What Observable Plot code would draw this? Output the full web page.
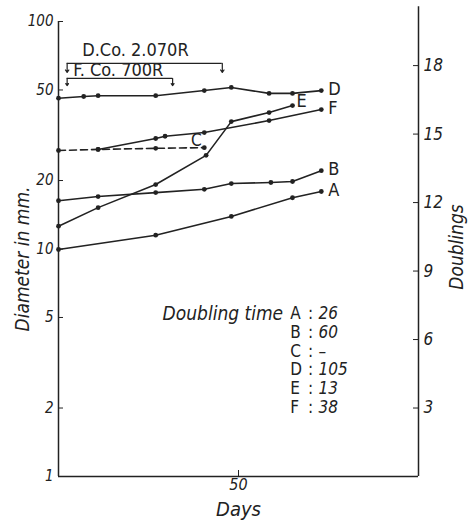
<!DOCTYPE html>
<html><head><meta charset="utf-8">
<script src="https://cdn.jsdelivr.net/npm/d3@7"></script>
<script src="https://cdn.jsdelivr.net/npm/@observablehq/plot@0.6"></script>
<style>
body{margin:0;background:#fff;}
#chart svg{display:block;}
</style></head><body><div id="chart"></div>
<script>
// Series data (days, diameter in mm)
const daysA = [0, 27, 48, 65, 73];
const mmA   = [9.95, 11.5, 13.9, 16.8, 17.9];
const daysB = [0, 11, 27, 40.5, 48, 59, 65, 73];
const mmB   = [16.3, 17.0, 17.7, 18.3, 19.4, 19.6, 19.8, 22.1];
const daysC = [0, 11, 27, 40.5];
const mmC   = [27.1, 27.4, 27.7, 27.9];
const daysD = [0, 7, 11, 27, 40.5, 48, 58.5, 65, 73];
const mmD   = [46, 46.8, 47.2, 47.2, 49.7, 51.3, 48.3, 48.3, 49.7];
const daysE = [0, 11, 27, 41, 48, 58.5, 65];
const mmE   = [12.6, 15.2, 19.2, 25.8, 36.3, 39.8, 42.7];
const daysF = [11, 27, 29.6, 40.5, 58.5, 73];
const mmF   = [27.4, 30.6, 31.3, 32.5, 36.7, 41.0];

const seriesNames = ["A", "B", "C", "D", "E", "F"];
const doublingTimes = ["26", "60", "–", "105", "13", "38"];

const leftTicks = [1, 2, 5, 10, 20, 50, 100];
const rightTickDoublings = [3, 6, 9, 12, 15, 18];
const xTicks = [50];

// Irradiation periods (days) and bracket levels (mm)
const treatLabels = ["D.Co. 2.070R", "F. Co. 700R"];
const treatStart = [2.4, 2.4];
const treatEnd = [45.5, 31.7];
const treatLevel = [65.4, 56.2];
const treatTip = [59.7, 52.3];
const treatTextAt = [[6.6, 74.6], [4.1, 61]];

const allDays = [daysA, daysB, daysC, daysD, daysE, daysF];
const allMm = [mmA, mmB, mmC, mmD, mmE, mmF];
const data = [];
seriesNames.forEach((s, i) => allDays[i].forEach((d, j) => data.push({series: s, day: d, mm: allMm[i][j]})));
const solid = data.filter(d => d.series !== "C");
const dashed = data.filter(d => d.series === "C");

const treat = treatLabels.map((l, i) => ({label: l, start: treatStart[i], end: treatEnd[i], level: treatLevel[i], tip: treatTip[i], tx: treatTextAt[i][0], ty: treatTextAt[i][1]}));
const arrows = treat.flatMap(t => [{x: t.start, y1: t.level, y2: t.tip}, {x: t.end, y1: t.level, y2: t.tip}]);

const rightTicks = rightTickDoublings.map(k => ({k, d: Math.pow(2, k / 3)}));

const ink = "#222";
const fam = "'DejaVu Sans Condensed', 'DejaVu Sans', sans-serif";

const lastPts = seriesNames.map(s => { const a = data.filter(d => d.series === s); return a[a.length - 1]; });
const endLabels = lastPts.filter(d => d.series !== "C" && d.series !== "E");

const chart = Plot.plot({
  width: 471, height: 524,
  marginLeft: 58, marginRight: 53, marginTop: 21, marginBottom: 48,
  style: {fontFamily: fam, color: ink, background: "#fff"},
  x: {domain: [0, 100]},
  y: {type: "log", domain: [1, 100]},
  marks: [
    // frame
    Plot.ruleX([0], {y1: 1, y2: 100, stroke: ink, strokeWidth: 1.5}),
    Plot.ruleX([100], {y1: 1, y2: 116, stroke: ink, strokeWidth: 1.5}),
    Plot.ruleY([1], {x1: 0, x2: 100, stroke: ink, strokeWidth: 1.5}),
    // axes
    Plot.axisY(leftTicks, {anchor: "left", tickSize: -5, tickPadding: 10, tickFormat: d => String(d), fontSize: 15, fontStyle: "italic", label: null}),
    Plot.axisY(rightTicks.map(t => t.d), {anchor: "right", tickSize: -6, tickFormat: () => "", label: null}),
    Plot.text(rightTicks, {y: "d", text: d => String(d.k), frameAnchor: "right", dx: 5, textAnchor: "start", fontSize: 17, fontStyle: "italic", fill: ink}),
    Plot.axisX(xTicks, {anchor: "bottom", tickSize: -6, tickPadding: 8, fontSize: 16, fontStyle: "italic", label: null}),
    Plot.text(["Days"], {frameAnchor: "bottom", textAnchor: "middle", dy: 39, fontSize: 20, fontStyle: "italic", fill: ink}),
    Plot.text(["Diameter in mm."], {frameAnchor: "left", textAnchor: "middle", dx: -36, dy: 10, rotate: -90, fontSize: 19, fontStyle: "italic", fill: ink}),
    Plot.text(["Doublings"], {frameAnchor: "right", textAnchor: "middle", dx: 38, dy: -2, rotate: -90, fontSize: 19, fontStyle: "italic", fill: ink}),
    // data
    Plot.line(solid, {x: "day", y: "mm", z: "series", stroke: ink, strokeWidth: 1.6}),
    Plot.line(dashed, {x: "day", y: "mm", stroke: ink, strokeWidth: 1.6, strokeDasharray: "7,4"}),
    Plot.dot(data, {x: "day", y: "mm", r: 2.4, fill: ink}),
    Plot.text(endLabels, {x: "day", y: "mm", text: "series", dx: 7, dy: -1, textAnchor: "start", fontSize: 18, fill: ink}),
    Plot.text(lastPts.filter(d => d.series === "E"), {x: "day", y: "mm", text: "series", dx: 4, dy: -4, textAnchor: "start", fontSize: 18, fill: ink}),
    Plot.text(lastPts.filter(d => d.series === "C"), {x: "day", y: "mm", text: "series", dx: -8, dy: -7, textAnchor: "middle", fontSize: 17, fill: ink}),
    // treatment brackets
    Plot.ruleY(treat, {y: "level", x1: "start", x2: "end", stroke: ink, strokeWidth: 1.2}),
    Plot.arrow(arrows, {x: "x", y1: "y1", y2: "y2", stroke: ink, strokeWidth: 1.2, headLength: 5, headAngle: 70}),
    Plot.text(treat, {x: "tx", y: "ty", text: "label", textAnchor: "start", fontSize: 18, fill: ink}),
    // doubling-time legend
    Plot.text(["Doubling time"], {x: [62.4], y: [5.21], textAnchor: "end", fontSize: 19, fontStyle: "italic", fill: ink}),
    Plot.text([seriesNames.join("\n")], {x: [64.4], y: [3.25], textAnchor: "start", lineAnchor: "middle", lineHeight: 1.1, fontSize: 17, fill: ink}),
    Plot.text([seriesNames.map(() => ":").join("\n")], {x: [70], y: [3.25], textAnchor: "middle", lineAnchor: "middle", lineHeight: 1.1, fontSize: 17, fill: ink}),
    Plot.text([doublingTimes.join("\n")], {x: [72.2], y: [3.25], textAnchor: "start", lineAnchor: "middle", lineHeight: 1.1, fontSize: 17, fontStyle: "italic", fill: ink})
  ]
});
document.getElementById("chart").append(chart);
</script></body></html>
